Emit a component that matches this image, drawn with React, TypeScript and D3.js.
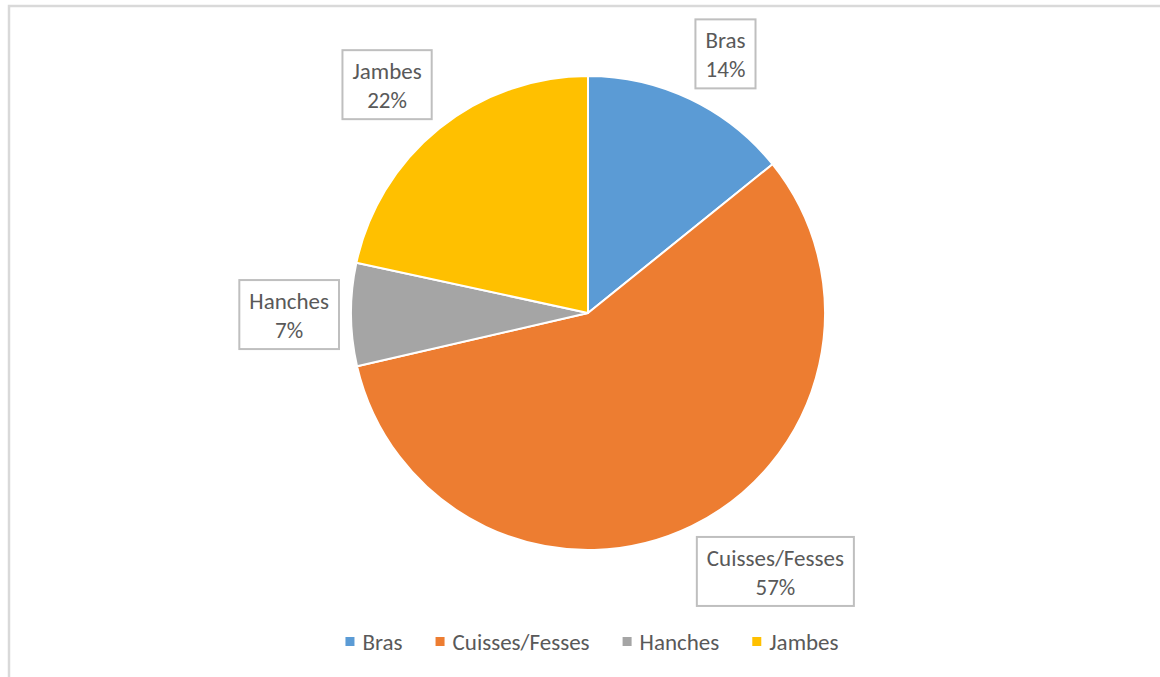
import React, { useEffect, useRef } from "react";
import * as d3 from "d3";

const categories = ["Bras", "Cuisses/Fesses", "Hanches", "Jambes"];
const values = [14.2, 57.2, 7.0, 21.6];
const colors = ["#5B9BD5", "#ED7D31", "#A5A5A5", "#FFC000"];

const W = 1160;
const H = 677;
const FONT = "Carlito, Lato, 'Liberation Sans', sans-serif";
const FS = 23;

export default function App() {
  const ref = useRef<SVGSVGElement>(null);

  useEffect(() => {
    const svg = d3.select(ref.current);
    svg.selectAll("*").remove();

    svg
      .append("rect")
      .attr("x", 9)
      .attr("y", 6)
      .attr("width", 1300)
      .attr("height", 900)
      .attr("fill", "#fff")
      .attr("stroke", "#d9d9d9")
      .attr("stroke-width", 2.5);

    const cx = 588;
    const cy = 313;
    const r = 237;

    const total = d3.sum(values);
    const pie = d3
      .pie<number>()
      .sort(null)
      .value((d) => d);
    const arcs = pie(values);
    const arc = d3.arc<d3.PieArcDatum<number>>().innerRadius(0).outerRadius(r);

    const g = svg.append("g").attr("transform", `translate(${cx},${cy})`);
    g.selectAll("path")
      .data(arcs)
      .join("path")
      .attr("d", arc)
      .attr("fill", (_, i) => colors[i])
      .attr("stroke", "#fff")
      .attr("stroke-width", 2)
      .attr("stroke-linejoin", "round");

    // data labels
    const R = r + 12;
    const lineH = 29;
    arcs.forEach((a, i) => {
      const mid = (a.startAngle + a.endAngle) / 2;
      const s = Math.sin(mid);
      const c = Math.cos(mid);
      const ax = s * R;
      const ay = -c * R;
      const lg = g.append("g");
      const box = lg
        .append("rect")
        .attr("fill", "#fff")
        .attr("stroke", "#bfbfbf")
        .attr("stroke-width", 2);
      const t1 = lg
        .append("text")
        .attr("text-anchor", "middle")
        .attr("font-family", FONT)
        .attr("font-size", FS)
        .attr("fill", "#595959")
        .text(categories[i]);
      const t2 = lg
        .append("text")
        .attr("text-anchor", "middle")
        .attr("font-family", FONT)
        .attr("font-size", FS)
        .attr("fill", "#595959")
        .text(d3.format(".0%")(values[i] / total));
      const tw = Math.max(
        (t1.node() as SVGTextElement).getComputedTextLength(),
        (t2.node() as SVGTextElement).getComputedTextLength()
      );
      const bw = tw + 20;
      const bh = 69;
      const eps = 0.05;
      const bx = s > eps ? ax : s < -eps ? ax - bw : ax - bw / 2;
      const by = c > eps ? ay - bh : c < -eps ? ay : ay - bh / 2;
      box.attr("x", bx).attr("y", by).attr("width", bw).attr("height", bh);
      t1.attr("x", bx + bw / 2).attr("y", by + 29);
      t2.attr("x", bx + bw / 2).attr("y", by + 29 + lineH);
    });

    // legend
    const lgG = svg.append("g");
    const items: { w: number; node: d3.Selection<SVGGElement, unknown, null, undefined> }[] = [];
    categories.forEach((cat, i) => {
      const it = lgG.append("g");
      it.append("rect")
        .attr("x", 0)
        .attr("y", -5)
        .attr("width", 9)
        .attr("height", 9)
        .attr("fill", colors[i]);
      const t = it
        .append("text")
        .attr("x", 17)
        .attr("y", 8)
        .attr("font-family", FONT)
        .attr("font-size", FS)
        .attr("fill", "#595959")
        .text(cat);
      const w = 17 + (t.node() as SVGTextElement).getComputedTextLength();
      items.push({ w, node: it });
    });
    const gap = 33;
    const totalW = d3.sum(items, (d) => d.w) + gap * (items.length - 1);
    let x = 592 - totalW / 2;
    items.forEach((it) => {
      it.node.attr("transform", `translate(${x},642)`);
      x += it.w + gap;
    });
  }, []);

  return (
    <svg
      ref={ref}
      width={W}
      height={H}
      style={{ position: "absolute", left: 0, top: 0, background: "#fff" }}
    />
  );
}
